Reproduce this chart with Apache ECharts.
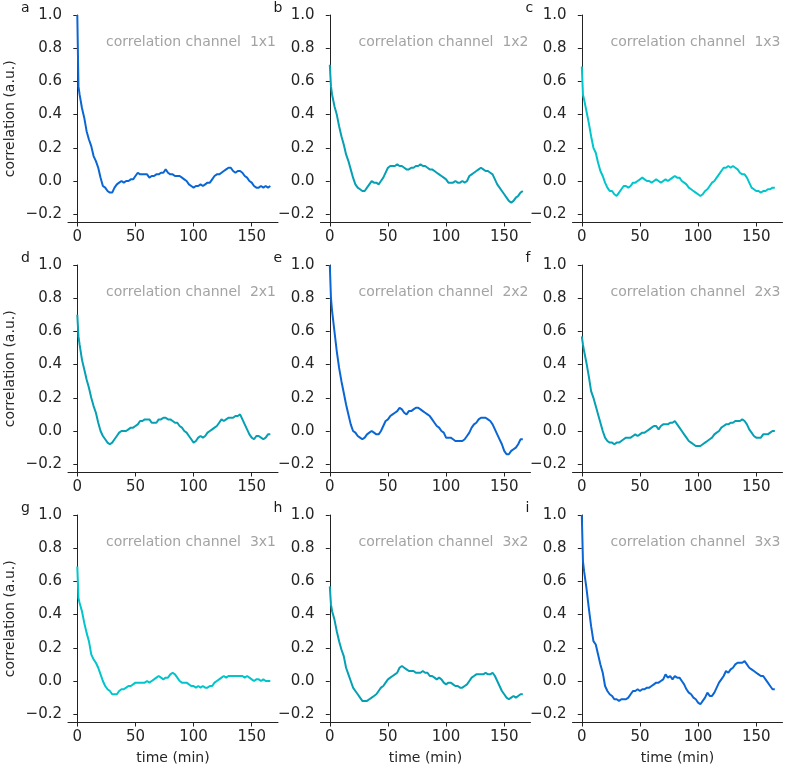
<!DOCTYPE html>
<html><head><meta charset="utf-8">
<script src="https://cdn.jsdelivr.net/npm/echarts@6/dist/echarts.min.js"></script>
<style>html,body{margin:0;padding:0;background:#fff}#c{width:789px;height:772px}</style>
</head><body><div id="c"></div>
<script>
const times = [0,1,2,4,6,8,10,12,14,16,
  18,20,22,24,26,28,30,32,34,36,
  38,40,42,44,46,48,50,52,54,56,
  58,60,62,64,66,68,70,72,74,76,
  78,80,82,84,86,88,90,92,94,96,
  98,100,102,104,106,108,110,112,114,116,
  118,120,122,124,126,128,130,132,134,136,
  138,140,142,144,146,148,150,152,154,156,
  158,160,162,164,166];

const corr1x1 = [1.0,0.57,0.52,0.44,0.38,0.30,0.25,0.21,0.15,0.12,
  0.08,0.02,-0.03,-0.04,-0.06,-0.07,-0.07,-0.04,-0.02,-0.01,
  0.0,-0.01,0.0,0.0,0.01,0.01,0.03,0.05,0.04,0.04,
  0.04,0.04,0.02,0.03,0.03,0.04,0.04,0.05,0.05,0.07,
  0.05,0.04,0.04,0.03,0.03,0.03,0.02,0.01,0.0,-0.02,
  -0.03,-0.04,-0.03,-0.03,-0.02,-0.03,-0.02,-0.01,-0.01,0.01,
  0.03,0.04,0.04,0.05,0.06,0.07,0.08,0.08,0.06,0.05,
  0.06,0.06,0.05,0.03,0.02,0.0,-0.01,-0.03,-0.04,-0.04,
  -0.03,-0.04,-0.03,-0.04,-0.03];
const corr1x2 = [0.70,0.57,0.52,0.45,0.40,0.33,0.27,0.22,0.16,0.12,
  0.07,0.02,-0.02,-0.04,-0.05,-0.06,-0.06,-0.04,-0.02,0.0,
  -0.01,-0.01,-0.02,0.0,0.02,0.05,0.08,0.09,0.09,0.09,
  0.10,0.09,0.09,0.08,0.07,0.07,0.08,0.08,0.09,0.09,
  0.10,0.09,0.09,0.08,0.07,0.07,0.06,0.05,0.04,0.03,
  0.02,0.01,-0.01,-0.01,-0.01,0.0,-0.01,-0.01,0.0,-0.01,
  0.0,0.03,0.04,0.05,0.06,0.07,0.08,0.07,0.06,0.06,
  0.05,0.04,0.01,-0.02,-0.04,-0.06,-0.08,-0.10,-0.12,-0.13,
  -0.12,-0.10,-0.09,-0.07,-0.06];
const corr1x3 = [0.69,0.52,0.49,0.42,0.35,0.27,0.20,0.17,0.11,0.06,
  0.03,-0.01,-0.04,-0.06,-0.06,-0.08,-0.09,-0.07,-0.05,-0.03,
  -0.03,-0.04,-0.03,-0.01,-0.01,0.0,0.01,0.02,0.01,0.0,
  0.0,-0.01,0.0,0.01,0.0,-0.01,0.0,0.01,0.0,0.01,
  0.02,0.03,0.02,0.02,0.0,-0.01,-0.02,-0.04,-0.05,-0.06,
  -0.07,-0.08,-0.09,-0.08,-0.06,-0.05,-0.03,-0.01,0.0,0.02,
  0.04,0.06,0.08,0.08,0.09,0.08,0.09,0.08,0.07,0.05,
  0.04,0.04,0.02,-0.01,-0.04,-0.05,-0.06,-0.06,-0.07,-0.06,
  -0.06,-0.05,-0.05,-0.04,-0.04];
const corr2x1 = [0.70,0.57,0.52,0.43,0.37,0.31,0.26,0.20,0.15,0.11,
  0.05,0.0,-0.03,-0.05,-0.07,-0.08,-0.07,-0.05,-0.03,-0.01,
  0.0,0.0,0.0,0.01,0.02,0.02,0.03,0.04,0.06,0.06,
  0.07,0.07,0.07,0.05,0.05,0.05,0.07,0.07,0.08,0.08,
  0.07,0.07,0.06,0.05,0.05,0.03,0.02,0.0,-0.01,-0.03,
  -0.05,-0.07,-0.06,-0.04,-0.03,-0.04,-0.03,-0.01,0.0,0.01,
  0.02,0.03,0.05,0.07,0.06,0.07,0.08,0.08,0.08,0.09,
  0.09,0.10,0.07,0.04,0.01,-0.02,-0.04,-0.05,-0.03,-0.03,
  -0.04,-0.05,-0.04,-0.02,-0.02];
const corr2x2 = [1.0,0.80,0.72,0.60,0.48,0.38,0.30,0.23,0.16,0.10,
  0.04,0.0,-0.01,-0.03,-0.04,-0.05,-0.04,-0.02,-0.01,0.0,
  -0.01,-0.02,-0.02,0.0,0.03,0.06,0.07,0.09,0.10,0.11,
  0.12,0.14,0.13,0.11,0.10,0.12,0.12,0.13,0.14,0.14,
  0.13,0.12,0.11,0.10,0.09,0.07,0.05,0.03,0.02,0.0,
  -0.01,-0.04,-0.04,-0.04,-0.05,-0.06,-0.06,-0.06,-0.06,-0.05,
  -0.03,-0.01,0.02,0.04,0.05,0.07,0.08,0.08,0.08,0.07,
  0.06,0.04,0.01,-0.02,-0.05,-0.08,-0.12,-0.14,-0.14,-0.12,
  -0.11,-0.10,-0.08,-0.05,-0.05];
const corr2x3 = [0.57,0.52,0.48,0.41,0.33,0.24,0.20,0.15,0.10,0.05,
  0.0,-0.04,-0.06,-0.07,-0.07,-0.08,-0.07,-0.07,-0.06,-0.05,
  -0.04,-0.04,-0.04,-0.03,-0.02,-0.03,-0.02,-0.01,-0.01,0.0,
  0.01,0.02,0.03,0.03,0.01,0.03,0.04,0.04,0.04,0.05,
  0.05,0.06,0.04,0.02,0.0,-0.02,-0.04,-0.06,-0.07,-0.08,
  -0.09,-0.09,-0.09,-0.08,-0.07,-0.06,-0.05,-0.04,-0.02,-0.01,
  0.0,0.02,0.03,0.04,0.04,0.05,0.05,0.06,0.06,0.06,
  0.07,0.06,0.04,0.01,-0.01,-0.03,-0.04,-0.04,-0.04,-0.02,
  -0.02,-0.02,-0.01,0.0,0.0];
const corr3x1 = [0.69,0.50,0.47,0.42,0.35,0.29,0.24,0.16,0.13,0.11,
  0.08,0.04,0.0,-0.03,-0.05,-0.06,-0.08,-0.08,-0.08,-0.06,
  -0.05,-0.05,-0.04,-0.03,-0.03,-0.02,-0.01,-0.01,-0.01,-0.01,
  -0.01,0.0,-0.01,0.0,0.01,0.02,0.03,0.02,0.01,0.02,
  0.02,0.04,0.05,0.04,0.02,0.0,-0.01,-0.01,-0.01,-0.02,
  -0.03,-0.03,-0.04,-0.03,-0.04,-0.03,-0.04,-0.04,-0.03,-0.03,
  -0.01,0.0,0.01,0.02,0.03,0.02,0.03,0.03,0.03,0.03,
  0.03,0.03,0.03,0.02,0.03,0.02,0.01,0.0,0.01,0.01,
  0.0,0.01,0.0,0.0,0.0];
const corr3x2 = [0.57,0.46,0.42,0.37,0.30,0.24,0.19,0.15,0.08,0.04,
  0.0,-0.04,-0.06,-0.08,-0.10,-0.12,-0.12,-0.12,-0.11,-0.10,
  -0.09,-0.08,-0.06,-0.04,-0.03,-0.01,0.01,0.02,0.03,0.04,
  0.05,0.08,0.09,0.08,0.07,0.06,0.06,0.06,0.05,0.05,
  0.05,0.06,0.05,0.05,0.03,0.03,0.02,0.01,0.02,0.01,
  -0.01,-0.02,-0.01,-0.01,-0.02,-0.03,-0.03,-0.04,-0.04,-0.03,
  -0.02,0.0,0.02,0.03,0.04,0.04,0.04,0.04,0.05,0.04,
  0.04,0.05,0.03,0.0,-0.03,-0.06,-0.08,-0.10,-0.11,-0.10,
  -0.09,-0.10,-0.09,-0.08,-0.08];
const corr3x3 = [1.0,0.72,0.66,0.56,0.44,0.33,0.24,0.22,0.16,0.10,
  0.05,-0.03,-0.06,-0.08,-0.09,-0.11,-0.11,-0.12,-0.11,-0.11,
  -0.11,-0.10,-0.08,-0.06,-0.06,-0.05,-0.06,-0.05,-0.05,-0.04,
  -0.04,-0.03,-0.02,-0.01,-0.01,0.0,0.01,0.04,0.02,0.03,
  0.01,0.03,0.02,0.02,0.0,-0.02,-0.05,-0.07,-0.08,-0.10,
  -0.11,-0.13,-0.14,-0.12,-0.10,-0.07,-0.09,-0.09,-0.07,-0.04,
  -0.01,0.01,0.03,0.06,0.05,0.07,0.08,0.10,0.11,0.11,
  0.11,0.12,0.10,0.08,0.07,0.06,0.05,0.04,0.03,0.03,
  0.01,-0.01,-0.03,-0.05,-0.05];

const panelLetters = ['a','b','c','d','e','f','g','h','i'];
const channelNames = ['1x1','1x2','1x3','2x1','2x2','2x3','3x1','3x2','3x3'];
const yTicks = [-0.2, 0.0, 0.2, 0.4, 0.6, 0.8, 1.0];
const xTicks = [0, 50, 100, 150];
const yAxisTitle = 'correlation (a.u.)';
const xAxisTitle = 'time (min)';
const titlePrefix = 'correlation channel  ';

const allSeries = [corr1x1, corr1x2, corr1x3, corr2x1, corr2x2, corr2x3, corr3x1, corr3x2, corr3x3];

// styles / layout
const lineColors = ['#0a66d4','#05a0b3','#00c6cb','#05a0b3','#0a66d4','#05a0b3','#00c6cb','#05a0b3','#0a66d4'];
const colLeft = [68, 320.5, 572.5];
const rowTop = [15, 265, 515];
const gridW = 210, gridH = 207.5;
const FONT = 'DejaVu Sans';
const W = 789;

const grids = [], xAxes = [], yAxes = [], series = [], titles = [];
const fmtY = v => (v < 0 ? '\u2212' : '') + Math.abs(v).toFixed(1);

for (let k = 0; k < 9; k++) {
  const r = Math.floor(k / 3), c = k % 3;
  const left = colLeft[c], top = rowTop[r];
  grids.push({left: left, top: top, width: gridW, height: gridH, containLabel: false});
  xAxes.push({
    type: 'value', gridIndex: k, min: -8, max: 172.6,
    axisLine: {show: true, onZero: false, lineStyle: {color: '#222', width: 1}},
    axisTick: {show: true, length: 4, customValues: xTicks, lineStyle: {color: '#222'}},
    axisLabel: {show: true, customValues: xTicks, color: '#262626', fontFamily: FONT, fontSize: 15, margin: 7},
    splitLine: {show: false},
    name: r === 2 ? xAxisTitle : '', nameLocation: 'middle', nameGap: 29,
    nameTextStyle: {color: '#262626', fontFamily: FONT, fontSize: 14}
  });
  yAxes.push({
    type: 'value', gridIndex: k, min: -0.25, max: 1.0,
    axisLine: {show: true, lineStyle: {color: '#222', width: 1}},
    axisTick: {show: true, length: 4, customValues: yTicks, lineStyle: {color: '#222'}},
    axisLabel: {show: true, customValues: yTicks, formatter: fmtY, color: '#262626', fontFamily: FONT, fontSize: 15, margin: 6},
    splitLine: {show: false},
    name: c === 0 ? yAxisTitle : '', nameLocation: 'middle', nameGap: 51,
    nameTextStyle: {color: '#262626', fontFamily: FONT, fontSize: 14}
  });
  series.push({
    type: 'line', xAxisIndex: k, yAxisIndex: k,
    data: times.map((t, i) => [t, allSeries[k][i]]),
    showSymbol: false, symbol: 'none', smooth: false,
    lineStyle: {color: lineColors[k], width: 2}, itemStyle: {color: lineColors[k]},
    animation: false, silent: true
  });
  titles.push({
    text: titlePrefix + channelNames[k], padding: 0,
    right: W - (left + gridW - 2), top: top + 20,
    textStyle: {color: '#a3a3a3', fontFamily: FONT, fontSize: 14, fontWeight: 'normal'}
  });
  titles.push({
    text: panelLetters[k], padding: 0,
    left: left - 47, top: top - 14,
    textStyle: {color: '#1a1a1a', fontFamily: FONT, fontSize: 14, fontWeight: 'normal'}
  });
}

const chart = echarts.init(document.getElementById('c'), null, {renderer: 'canvas'});
chart.setOption({
  animation: false,
  backgroundColor: '#fff',
  title: titles,
  grid: grids, xAxis: xAxes, yAxis: yAxes, series: series
});
</script>
</body></html>
